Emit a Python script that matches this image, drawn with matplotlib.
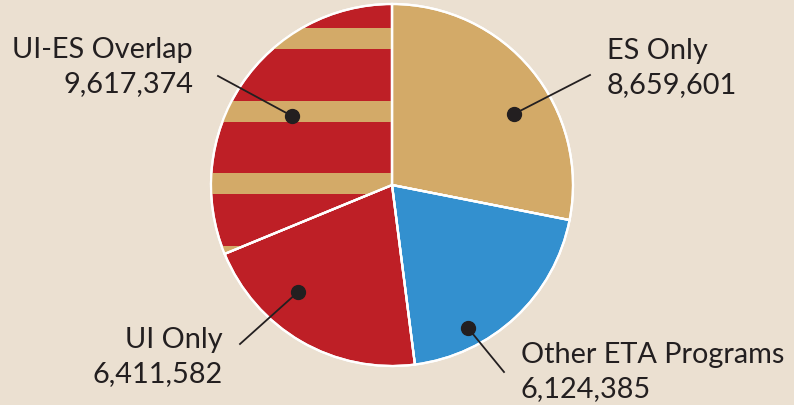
import matplotlib.pyplot as plt
from matplotlib.patches import Rectangle

labels = ['ES Only', 'Other ETA Programs', 'UI Only', 'UI-ES Overlap']
values = [8659601, 6124385, 6411582, 9617374]

bg = '#ebe0d1'
tan = '#d3aa68'
red = '#be1f26'
blue = '#3390cf'
ink = '#231f20'

plt.rcParams['font.family'] = ['Lato', 'DejaVu Sans']

fig = plt.figure(figsize=(7.94, 4.06), dpi=100, facecolor=bg)
ax = fig.add_axes([0, 0, 1, 1])
ax.set_facecolor(bg)

cx, cy, r = 392, 220, 181
wedges, _ = ax.pie(values, colors=[tan, blue, red, red], startangle=90, counterclock=False,
                   radius=r, center=(cx, cy), frame=True,
                   wedgeprops=dict(edgecolor='white', linewidth=1.6))

# horizontal tan stripes inside the overlap slice
for k in range(5):
    top = cy + 157 - k * 72.6
    rect = Rectangle((cx - r - 5, top - 21), r + 5, 21, facecolor=tan, edgecolor='none', zorder=1.5)
    ax.add_patch(rect)
    rect.set_clip_path(wedges[3])
# redraw white edges on top
for w in wedges:
    w.set_zorder(1)
ax.pie(values, colors=['none'] * 4, startangle=90, counterclock=False,
       radius=r, center=(cx, cy), frame=True,
       wedgeprops=dict(edgecolor='white', linewidth=1.6, zorder=2, fill=False))

# leader lines and dots: (dot, line end, text anchor, alignment)
callouts = [
    ((514, 291), (590, 330), (607, 347), 'left'),
    ((468, 77), (504, 33), (521, 43), 'left'),
    ((298, 113), (240, 61), (223, 58), 'right'),
    ((292, 289), (218, 329), (193, 348), 'right'),
]
for (d, e, t, ha), lab, v in zip(callouts, labels, values):
    ax.plot([d[0], e[0]], [d[1], e[1]], color=ink, linewidth=1.3, zorder=3)
    ax.plot(d[0], d[1], 'o', color=ink, markersize=10, zorder=4)
    ax.text(t[0], t[1], lab, ha=ha, va='baseline', fontsize=20.8, color=ink)
    ax.text(t[0], t[1] - 34, f'{v:,}', ha=ha, va='baseline', fontsize=20.8, color=ink)

ax.set_xlim(0, 794)
ax.set_ylim(0, 406)
ax.set_aspect('equal')
ax.axis('off')
fig.savefig('out.png', dpi=100, facecolor=bg)
